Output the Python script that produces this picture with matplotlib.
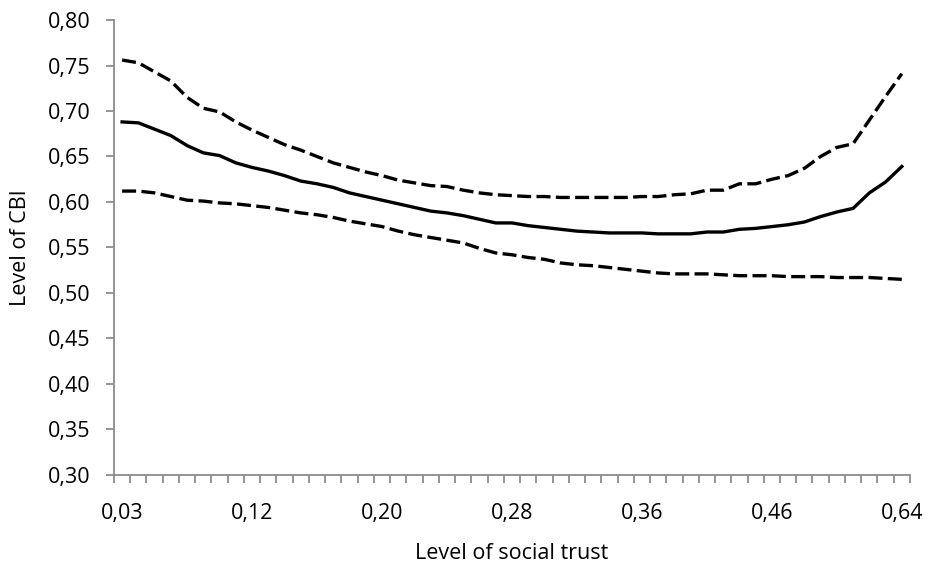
import matplotlib
matplotlib.use("Agg")
import matplotlib.pyplot as plt
import numpy as np

# Level of CBI by level of social trust (estimate with upper / lower bands)
trust_labels = ["0,03", "0,12", "0,20", "0,28", "0,36", "0,46", "0,64"]
label_step = 8

cbi_upper = [0.756, 0.753, 0.743, 0.733, 0.715, 0.703, 0.699, 0.688, 0.679, 0.671,
             0.663, 0.657, 0.650, 0.643, 0.638, 0.633, 0.629, 0.624, 0.621, 0.618,
             0.617, 0.613, 0.610, 0.608, 0.607, 0.606, 0.606, 0.605, 0.605, 0.605,
             0.605, 0.605, 0.606, 0.606, 0.608, 0.609, 0.613, 0.613, 0.620, 0.620,
             0.625, 0.629, 0.637, 0.650, 0.660, 0.664, 0.690, 0.716, 0.741]
cbi_mid = [0.688, 0.687, 0.680, 0.673, 0.662, 0.654, 0.651, 0.643, 0.638, 0.634,
           0.629, 0.623, 0.620, 0.616, 0.610, 0.606, 0.602, 0.598, 0.594, 0.590,
           0.588, 0.585, 0.581, 0.577, 0.577, 0.574, 0.572, 0.570, 0.568, 0.567,
           0.566, 0.566, 0.566, 0.565, 0.565, 0.565, 0.567, 0.567, 0.570, 0.571,
           0.573, 0.575, 0.578, 0.584, 0.589, 0.593, 0.610, 0.622, 0.639]
cbi_lower = [0.612, 0.612, 0.610, 0.606, 0.602, 0.601, 0.599, 0.598, 0.596, 0.594,
             0.591, 0.588, 0.586, 0.583, 0.579, 0.576, 0.573, 0.568, 0.564, 0.561,
             0.558, 0.555, 0.549, 0.544, 0.542, 0.539, 0.537, 0.533, 0.531, 0.530,
             0.528, 0.526, 0.524, 0.522, 0.521, 0.521, 0.521, 0.520, 0.519, 0.519,
             0.519, 0.518, 0.518, 0.518, 0.517, 0.517, 0.517, 0.516, 0.515]

plt.rcParams["font.family"] = ["Open Sans", "DejaVu Sans"]

n = len(cbi_mid)
x = np.arange(n)

fig = plt.figure(figsize=(9.29, 5.65), dpi=100)
ax = fig.add_axes([0.1227, 0.1593, 0.8568, 0.8053])

ax.plot(x, cbi_upper, color="black", lw=2.4, linestyle=(0, (4.2, 1.6)))
ax.plot(x, cbi_mid, color="black", lw=2.4)
ax.plot(x, cbi_lower, color="black", lw=2.4, linestyle=(0, (4.2, 1.6)))

ax.set_xlim(-0.5, n - 0.5)
ax.set_ylim(0.30, 0.80)
yticks = np.arange(0.30, 0.801, 0.05)
ax.set_yticks(yticks)
ax.set_yticklabels([f"{v:.2f}".replace(".", ",") for v in yticks])

ax.set_xticks(x[::label_step])
ax.set_xticklabels(trust_labels)
ax.set_xticks(np.arange(-0.5, n, 1.0), minor=True)

spine_col = "#8c8c8c"
for side in ["top", "right"]:
    ax.spines[side].set_visible(False)
for side in ["left", "bottom"]:
    ax.spines[side].set_color(spine_col)
    ax.spines[side].set_linewidth(1.3)

ax.tick_params(axis="y", direction="out", length=6, width=1.3, color=spine_col,
               labelsize=15.5, pad=11)
ax.tick_params(axis="x", which="major", length=0, labelsize=15.5, pad=20)
ax.tick_params(axis="x", which="minor", direction="out", length=6, width=1.3,
               color=spine_col)

ax.set_xlabel("Level of social trust", fontsize=15.5, labelpad=14)
ax.set_ylabel("Level of CBI", fontsize=15.5, labelpad=12)

fig.savefig("out.png", dpi=100)
